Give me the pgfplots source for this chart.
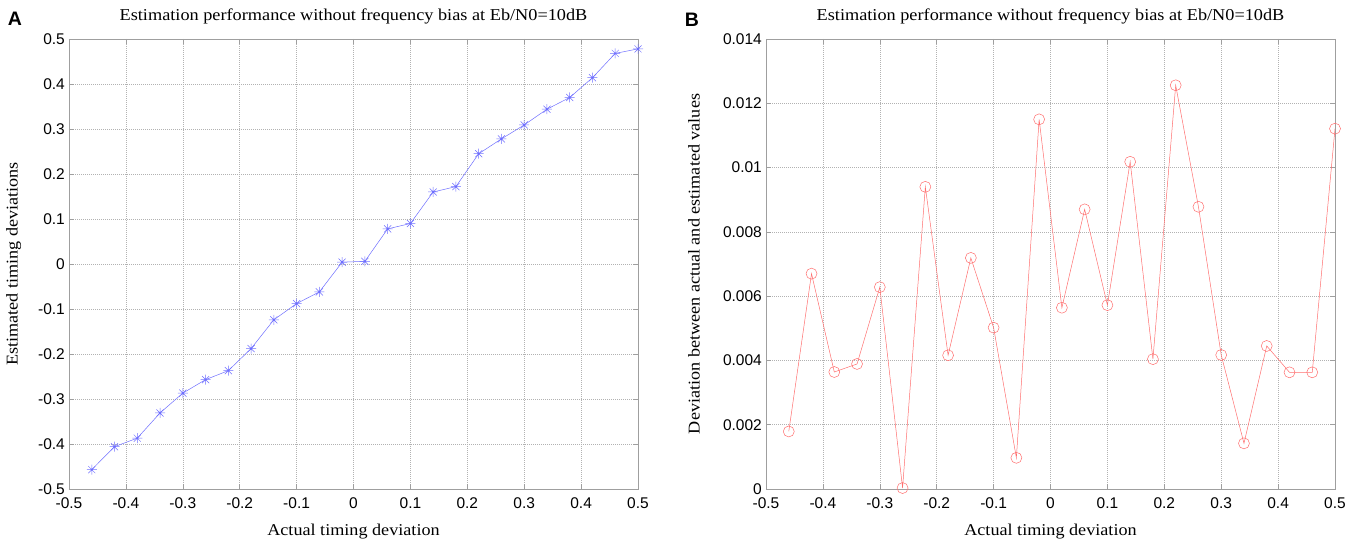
\documentclass[border=0pt]{standalone}
\usepackage{pgfplots}
\pgfplotsset{compat=1.18}
\usepackage{fontspec}
\setmainfont{Liberation Serif}
\newfontfamily\wideserif[FakeStretch=1.1]{Liberation Serif}
\newfontfamily\arial{Liberation Sans}
\definecolor{mblue}{RGB}{110,110,255}
\definecolor{mred}{RGB}{255,110,110}
\pgfdeclareplotmark{star8}{%
  \pgfpathmoveto{\pgfqpoint{-\pgfplotmarksize}{0pt}}\pgfpathlineto{\pgfqpoint{\pgfplotmarksize}{0pt}}%
  \pgfpathmoveto{\pgfqpoint{0pt}{-\pgfplotmarksize}}\pgfpathlineto{\pgfqpoint{0pt}{\pgfplotmarksize}}%
  \pgfpathmoveto{\pgfqpoint{-0.707\pgfplotmarksize}{-0.707\pgfplotmarksize}}\pgfpathlineto{\pgfqpoint{0.707\pgfplotmarksize}{0.707\pgfplotmarksize}}%
  \pgfpathmoveto{\pgfqpoint{-0.707\pgfplotmarksize}{0.707\pgfplotmarksize}}\pgfpathlineto{\pgfqpoint{0.707\pgfplotmarksize}{-0.707\pgfplotmarksize}}%
  \pgfusepathqstroke}
\pgfplotsset{
  mystyle/.style={
    scale only axis, width=569pt, height=450pt, anchor=south west,
    xmin=-0.5, xmax=0.5,
    xtick={-0.5,-0.4,-0.3,-0.2,-0.1,0,0.1,0.2,0.3,0.4,0.5},
    grid=major, major grid style={gray!60, dash pattern=on 1pt off 1pt, line width=0.5pt},
    axis line style={gray!75, line width=0.7pt},
    tick style={gray!75, line width=0.6pt}, tick align=inside, major tick length=5pt,
    ticklabel style={font=\arial\fontsize{15.5}{17}\selectfont},
    xticklabel style={inner sep=2pt, yshift=-6pt},
    yticklabel style={inner sep=2pt, xshift=-2pt},
    /pgf/number format/assume math mode=true,
    scaled ticks=false,
    xticklabel style={/pgf/number format/fixed, /pgf/number format/precision=1},
    label style={font=\wideserif\fontsize{16.5}{18}\selectfont},
    title style={font=\wideserif\fontsize{16.6}{18}\selectfont, at={(axis description cs:0.5,1)}, anchor=center, yshift=17pt},
    xlabel style={at={(axis description cs:0.5,0)}, anchor=center, yshift=-43pt},
    xlabel={Actual timing deviation},
    title={Estimation performance without frequency bias at Eb/N0=10dB},
  }
}
\begin{document}
\begin{tikzpicture}
\useasboundingbox (0pt,0pt) rectangle (1364pt,545pt);
\node[font=\arial\bfseries\fontsize{19.5}{20}\selectfont] at (15pt,526pt) {A};
\node[font=\arial\bfseries\fontsize{19.5}{20}\selectfont] at (692pt,525.5pt) {B};
\begin{axis}[mystyle, at={(69pt,56pt)},
  ymin=-0.5, ymax=0.5,
  ytick={-0.5,-0.4,-0.3,-0.2,-0.1,0,0.1,0.2,0.3,0.4,0.5},
  yticklabel style={/pgf/number format/fixed, /pgf/number format/precision=1},
  ylabel={Estimated timing deviations},
  ylabel style={at={(axis description cs:-0.097,0.5)}, anchor=center},
]
\addplot[mblue, line width=0.5pt, mark=star8, mark size=5pt] coordinates {
(-0.46,-0.457) (-0.42,-0.406) (-0.38,-0.387) (-0.34,-0.331) (-0.30,-0.287)
(-0.26,-0.257) (-0.22,-0.237) (-0.18,-0.188) (-0.14,-0.124) (-0.10,-0.088)
(-0.06,-0.062) (-0.02,0.004) (0.02,0.006) (0.06,0.078) (0.10,0.090)
(0.14,0.160) (0.18,0.172) (0.22,0.245) (0.26,0.278) (0.30,0.309)
(0.34,0.344) (0.38,0.370) (0.42,0.414) (0.46,0.468) (0.50,0.478)
};
\end{axis}
\begin{axis}[mystyle, at={(766pt,56pt)},
  ymin=0, ymax=0.014,
  ytick={0,0.002,0.004,0.006,0.008,0.01,0.012,0.014},
  yticklabel style={/pgf/number format/fixed, /pgf/number format/precision=3},
  ylabel={Deviation between actual and estimated values},
  ylabel style={at={(axis description cs:-0.1265,0.5)}, anchor=center},
]
\addplot[mred, line width=0.5pt, mark=o, mark size=5.5pt] coordinates {
(-0.46,0.00179) (-0.42,0.00670) (-0.38,0.00364) (-0.34,0.00389) (-0.30,0.00628)
(-0.26,0.00003) (-0.22,0.00940) (-0.18,0.00416) (-0.14,0.00719) (-0.10,0.00502)
(-0.06,0.00097) (-0.02,0.01150) (0.02,0.00564) (0.06,0.00870) (0.10,0.00572)
(0.14,0.01018) (0.18,0.00404) (0.22,0.01256) (0.26,0.00878) (0.30,0.00417)
(0.34,0.00142) (0.38,0.00445) (0.42,0.00363) (0.46,0.00363) (0.50,0.01121)
};
\end{axis}
\end{tikzpicture}
\end{document}
